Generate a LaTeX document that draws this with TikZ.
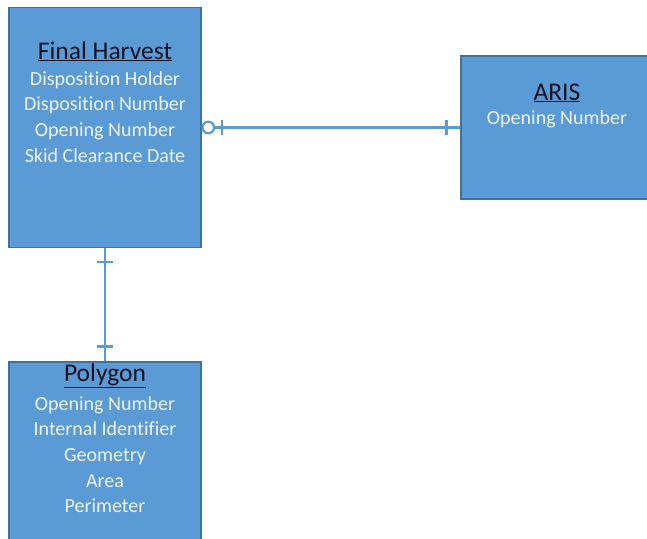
\documentclass[tikz,border=0pt]{standalone}
\usepackage{fontspec}
\setmainfont{Carlito}[Ligatures=NoCommon]
\usetikzlibrary{calc}
\definecolor{boxfill}{HTML}{5B9BD5}
\definecolor{boxedge}{HTML}{41719C}
\definecolor{linkcol}{HTML}{5B9BD5}
\definecolor{bodytxt}{HTML}{EEF3FA}
\definecolor{titletxt}{HTML}{111122}
\tikzset{
  entity/.style={draw=boxedge, line width=1.4pt, fill=boxfill, inner sep=0pt},
  title/.style={text=titletxt, font=\fontsize{25.5}{28}\selectfont, inner sep=0pt, anchor=base},
  body/.style={text=bodytxt, font=\fontsize{20}{25.7}\selectfont, align=center, inner sep=0pt, anchor=north},
  link/.style={draw=linkcol, line width=2.4pt},
}
\begin{document}
\begin{tikzpicture}[x=1pt,y=-1pt]
\useasboundingbox (0,0) rectangle (647,538);
\node[entity, minimum width=192pt, minimum height=240pt] (fh) at (105,127.5) {};
\node[entity, minimum width=192pt, minimum height=190pt] (poly) at (105,457) {};
\node[entity, minimum width=192pt, minimum height=143pt] (aris) at (557,127.5) {};
% titles
\node[title] (fht) at (105,59) {\underline{Final Harvest}};
\node[title] (polyt) at (105,381) {\underline{Polygon}};
\node[title] (arist) at (557,100) {\underline{ARIS}};
% bodies
\node[body] (fhb) at (105,71) {Disposition Holder\\Disposition Number\\Opening Number\\Skid Clearance Date};
\node[body] (polyb) at (105,396) {Opening Number\\Internal Identifier\\Geometry\\Area\\Perimeter};
\node[body] (arisb) at (557,110) {Opening Number};
% connectors
\draw[link] (fh.east) -- (aris.west);
\draw[link] (fh.south) -- (poly.north);
% zero-or-one at Final Harvest
\draw[link, fill=white, line width=2.2pt] ($(fh.east)+(6.6,0)$) circle (5.8);
\draw[link] ($(fh.east)+(20,-7.5)$) -- ($(fh.east)+(20,7.5)$);
% one at ARIS
\draw[link] ($(aris.west)+(-14,-7.5)$) -- ($(aris.west)+(-14,7.5)$);
% one and one on vertical
\draw[link] ($(fh.south)+(-8,14)$) -- ($(fh.south)+(8,14)$);
\draw[link] ($(poly.north)+(-8,-15)$) -- ($(poly.north)+(8,-15)$);
\end{tikzpicture}
\end{document}
